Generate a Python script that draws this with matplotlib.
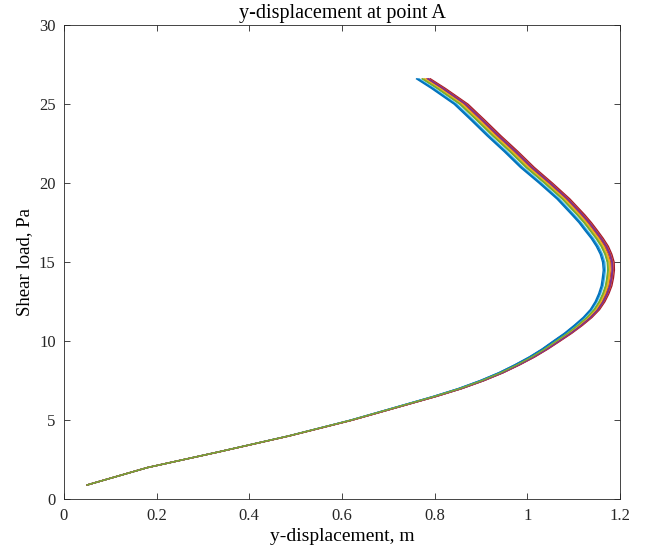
"""
y-displacement at point A versus shear load, one line per run.
"""

import matplotlib
matplotlib.use("Agg")
import matplotlib.pyplot as plt
import numpy as np


# Shear load levels (Pa), shared by all runs
LOAD = [0.9, 2, 3, 4, 5, 6, 6.5, 7, 7.5, 8, 8.5, 9, 9.5, 10, 10.5, 11,
        11.5, 12, 12.5, 13, 13.5, 14, 14.5, 15, 15.5, 16, 16.5, 17, 17.5,
        18, 19, 20, 21, 22, 23, 24, 25, 26, 26.6]

# Centre of the bundle: y-displacement (m) at each load level
DISP_MID = [0.050, 0.180, 0.335, 0.485, 0.620, 0.740, 0.800, 0.855, 0.902,
            0.943, 0.978, 1.010, 1.038, 1.063, 1.088, 1.110, 1.130, 1.146,
            1.157, 1.165, 1.171, 1.174, 1.176, 1.175, 1.170, 1.162, 1.151,
            1.138, 1.125, 1.110, 1.078, 1.040, 1.000, 0.965, 0.928, 0.893,
            0.857, 0.808, 0.776]

# Width of the bundle (m) at each load level
DISP_SPREAD = [0.000, 0.000, 0.001, 0.002, 0.004, 0.006, 0.007, 0.008, 0.009,
               0.010, 0.011, 0.012, 0.013, 0.015, 0.016, 0.018, 0.019, 0.020,
               0.021, 0.022, 0.023, 0.024, 0.024, 0.025, 0.025, 0.026, 0.026,
               0.027, 0.027, 0.028, 0.028, 0.029, 0.030, 0.030, 0.030, 0.030,
               0.030, 0.030, 0.030]

# Position of each run across the bundle (0 = inner edge, 1 = outer edge)
RUN_POSITION = [0.00, 0.70, 0.55, 0.80, 0.40, 0.20, 1.00,
                0.10, 0.90, 0.60, 0.85, 0.45]

COLORS = ["#0072BD", "#D95319", "#EDB120", "#7E2F8E",
          "#77AC30", "#4DBEEE", "#A2142F"]

AX_COLOR = "#262626"


def main():
    plt.rcParams["font.family"] = ["Liberation Serif", "DejaVu Serif"]

    fig = plt.figure(figsize=(6.51, 5.59), dpi=100)
    ax = fig.add_axes([0.0983, 0.107, 0.854, 0.848])

    load = np.array(LOAD)
    mid = np.array(DISP_MID)
    spread = np.array(DISP_SPREAD)

    for i, pos in enumerate(RUN_POSITION):
        disp = mid + (pos - 0.5) * spread
        ax.plot(disp, load, color=COLORS[i % len(COLORS)], linewidth=1.0)

    ax.set_xlim(0, 1.2)
    ax.set_ylim(0, 30)
    ax.set_xticks([0, 0.2, 0.4, 0.6, 0.8, 1.0, 1.2])
    ax.set_xticklabels(["0", "0.2", "0.4", "0.6", "0.8", "1", "1.2"])
    ax.set_yticks([0, 5, 10, 15, 20, 25, 30])

    ax.tick_params(direction="in", top=True, right=True, length=4,
                   width=0.6, color=AX_COLOR, labelcolor=AX_COLOR,
                   labelsize=12, pad=6)
    for spine in ax.spines.values():
        spine.set_color(AX_COLOR)
        spine.set_linewidth(0.6)

    ax.set_title("y-displacement at point A", fontsize=14.5, color="black", pad=5)
    ax.set_xlabel("y-displacement, m", fontsize=14, color="black", labelpad=3)
    ax.set_ylabel("Shear load, Pa", fontsize=13.5, color="black", labelpad=4)

    plt.savefig("out.png", dpi=100)
    plt.close()


if __name__ == "__main__":
    main()
